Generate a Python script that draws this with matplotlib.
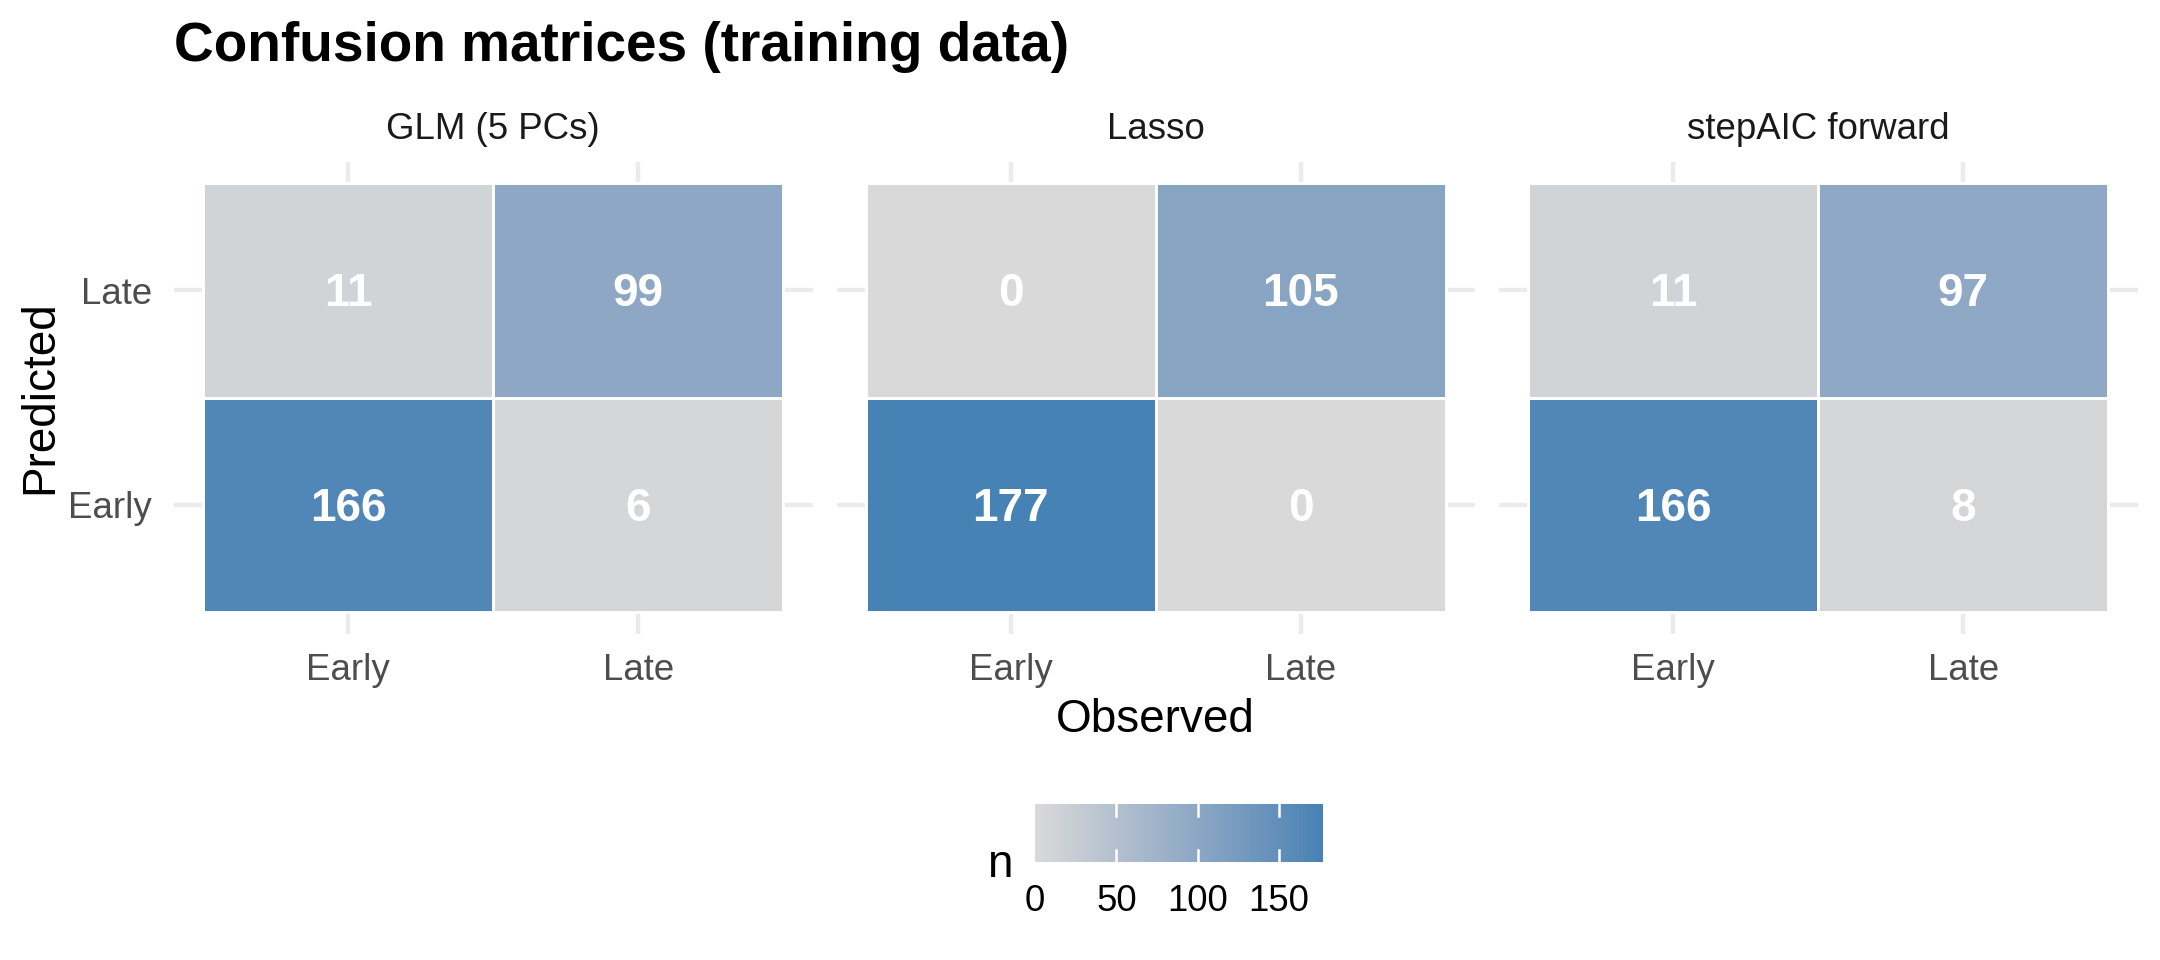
import numpy as np
import matplotlib
matplotlib.use("Agg")
import matplotlib.pyplot as plt
from matplotlib.colors import ListedColormap, Normalize, to_rgb
from matplotlib.transforms import offset_copy

plt.rcParams['font.family'] = ['Liberation Sans', 'DejaVu Sans']

# ---------------- data ----------------
title = "Confusion matrices (training data)"
models = ["GLM (5 PCs)", "Lasso", "stepAIC forward"]
classes = ["Early", "Late"]
observed = ["Early", "Late", "Early", "Late"]
predicted = ["Early", "Early", "Late", "Late"]
n_glm = [166, 6, 11, 99]
n_lasso = [177, 0, 0, 105]
n_step = [166, 8, 11, 97]
counts = [n_glm, n_lasso, n_step]
cbar_ticks = [0, 50, 100, 150]
low_col = "#D9D9D9"
high_col = "#4682B4"

# ---------------- colour ramp in Lab (like ggplot) ----------------
M = np.array([[0.4124564, 0.3575761, 0.1804375],
              [0.2126729, 0.7151522, 0.0721750],
              [0.0193339, 0.1191920, 0.9503041]])
Minv = np.linalg.inv(M)
WHITE = np.array([0.95047, 1.0, 1.08883])

def rgb2lab(rgb):
    c = np.array(rgb)
    lin = np.where(c <= 0.04045, c / 12.92, ((c + 0.055) / 1.055) ** 2.4)
    xyz = M @ lin / WHITE
    f = np.where(xyz > (6/29)**3, np.cbrt(xyz), xyz / (3*(6/29)**2) + 4/29)
    return np.array([116*f[1] - 16, 500*(f[0]-f[1]), 200*(f[1]-f[2])])

def lab2rgb(lab):
    L, a, b = lab
    fy = (L + 16) / 116
    fx = fy + a / 500
    fz = fy - b / 200
    f = np.array([fx, fy, fz])
    xyz = np.where(f > 6/29, f**3, 3*(6/29)**2*(f - 4/29)) * WHITE
    lin = Minv @ xyz
    lin = np.clip(lin, 0, 1)
    c = np.where(lin <= 0.0031308, 12.92*lin, 1.055*lin**(1/2.4) - 0.055)
    return np.clip(c, 0, 1)

lab_lo = rgb2lab(to_rgb(low_col))
lab_hi = rgb2lab(to_rgb(high_col))
ramp = [lab2rgb(lab_lo + t*(lab_hi - lab_lo)) for t in np.linspace(0, 1, 256)]
cmap = ListedColormap(ramp)
vmax = max(max(c) for c in counts)
norm = Normalize(vmin=0, vmax=vmax)

# ---------------- figure ----------------
W, H = 2160, 960
fig = plt.figure(figsize=(7.2, 3.2), dpi=300)
fig.patch.set_facecolor("white")

panel_lefts = [174, 836.5, 1499]
panel_w = 638.5
panel_top, panel_bot = 161.5, 633.5

pos = {c: i + 1 for i, c in enumerate(classes)}
grid_col = "#EBEBEB"

for k, (name, n) in enumerate(zip(models, counts)):
    ax = fig.add_axes([panel_lefts[k]/W, 1 - panel_bot/H, panel_w/W, (panel_bot - panel_top)/H])
    ax.set_xlim(0.4, 2.6)
    ax.set_ylim(0.4, 2.6)
    for s in ax.spines.values():
        s.set_visible(False)
    ax.set_axisbelow(True)
    ax.grid(True, color=grid_col, linewidth=1.07)
    ax.set_xticks([pos[c] for c in classes])
    ax.set_xticklabels(classes)
    ax.set_yticks([pos[c] for c in classes])
    if k == 0:
        ax.set_yticklabels(classes)
    else:
        ax.set_yticklabels([])
    ax.tick_params(axis='both', length=0, labelsize=8.8, labelcolor="#4D4D4D")
    ax.tick_params(axis='x', pad=4.6)
    ax.tick_params(axis='y', pad=5.3)
    xs = [pos[o] for o in observed]
    ys = [pos[p] for p in predicted]
    cols = [cmap(norm(v)) for v in n]
    ax.bar(xs, [1]*len(xs), bottom=[y - 0.5 for y in ys], width=1.0,
           color=cols, edgecolor="white", linewidth=0.7, zorder=2)
    tr = offset_copy(ax.transData, fig=fig, x=0, y=-3.9, units='points')
    for x, y, v in zip(xs, ys, n):
        ax.text(x, y, str(v), transform=tr, ha='center', va='baseline',
                color='white', fontweight='bold', fontsize=11, zorder=3)
    ax.set_title(name, fontsize=8.8, color="#1A1A1A", pad=5.4)

# title and axis titles
fig.text(174/W, 1 - 61/H, title, fontsize=13.2, fontweight='bold', ha='left', va='baseline')
fig.text((174 + 2137)/2/W, 1 - 720/H, "Observed", fontsize=11, ha='center', va='center')
fig.text(40/W, 1 - 397/H, "Predicted", fontsize=11, ha='center', va='center', rotation=90)

# colourbar legend
cax = fig.add_axes([1035/W, 1 - 862/H, 288/W, 58/H])
sm = matplotlib.cm.ScalarMappable(norm=norm, cmap=cmap)
cb = fig.colorbar(sm, cax=cax, orientation='horizontal', ticks=cbar_ticks)
cb.outline.set_visible(False)
cax.tick_params(length=0, labelsize=8.8, pad=5.2, labelcolor="black")
for v in cbar_ticks[1:]:
    cax.axvline(v, ymin=0, ymax=0.2, color='white', linewidth=0.6)
    cax.axvline(v, ymin=0.8, ymax=1.0, color='white', linewidth=0.6)
fig.text(1000/W, 1 - 877/H, "n", fontsize=11, ha='center', va='baseline')

fig.savefig("out.png", dpi=300, facecolor="white")
